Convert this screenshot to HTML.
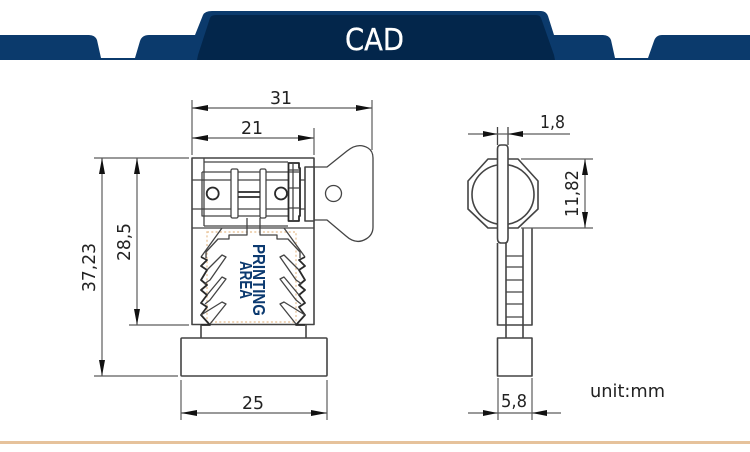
<!DOCTYPE html>
<html><head><meta charset="utf-8"><style>
html,body{margin:0;padding:0;background:#fff}
svg{display:block}
text{font-family:"DejaVu Sans","Liberation Sans",sans-serif;fill:#222;font-size:17.500px}
.l{fill:none;stroke:#444;stroke-width:1.300;stroke-linejoin:round}
.t{fill:none;stroke:#2a2a2a;stroke-width:1.800;stroke-linejoin:round}
.o{fill:none;stroke:#444;stroke-width:1.600;stroke-linejoin:round}
.d{fill:none;stroke:#5c5c5c;stroke-width:1.200}
.a{fill:#111;stroke:none}
</style></head><body>
<svg width="750" height="452" viewBox="0 0 750 452" xmlns="http://www.w3.org/2000/svg">
<rect width="750" height="452" fill="#fff"/>
<!-- header -->
<path d="M0 35H89Q95 35 97 40L101 58H135L140 41Q142 35 149 35H195L203 15Q205 11 212 11H541Q546 11 548 16L554 35H603Q609 35 611 40L615 58H648L654 41Q656 35 662 35H750V60H0Z" fill="#0b3a6c"/>
<path d="M198 55L210 18Q211 15 216 15H536Q540 15 541 18L554 55L555 60H197Z" fill="#03264b"/>
<text x="345" y="50" textLength="59" lengthAdjust="spacingAndGlyphs" style="font-size:30px;fill:#fff;stroke:#fff;stroke-width:.3">CAD</text>
<rect x="0" y="441" width="750" height="3" fill="#e6c29b"/>

<!-- front view body -->
<path class="o" d="M192 158H314V324.500H192Z"/>
<path class="l" d="M204 158V226M204 162H288M202 172H288M202 172V216H288M192 180H314M192 209H314M204 226H288M192 228H314"/>
<rect class="l" x="231" y="169" width="7" height="49" rx="1.500" fill="#fff" style="fill:#fff"/>
<rect class="l" x="260" y="169" width="6" height="49" rx="1.500" style="fill:#fff"/>
<path class="t" d="M238 192H260M238 197H260"/>
<circle class="t" cx="212.700" cy="193.500" r="6" style="fill:#fff"/>
<circle class="t" cx="281" cy="193.500" r="6" style="fill:#fff"/>
<path class="t" d="M288.500 163H299V168H300V216H299V221H288.500Z" style="fill:#fff"/>
<path class="l" d="M289 170H300M289 172H300M289 188H300M289 208H300M293 163V221"/>
<path class="o" d="M305 167H314V221H305Z" style="fill:#fff"/>
<path class="l" d="M314 167H327L347 151Q358 142 368 148Q373 151 373 158V227Q373 235 366 239Q356 245 346 236L327 220H314"/>
<circle class="l" cx="333.500" cy="193.500" r="8"/>

<!-- printing area -->
<path d="M207 232H296V322H207Z" fill="none" stroke="#eac79f" stroke-width="1.400" stroke-dasharray="2 2.300"/>
<!-- inner mechanism -->
<path class="l" d="M247 218V235H229V239H218L206 252L206 258M222 228L201 257M260 218V235H277V239H288L300 252V258M284 228L305 257"/>
<path class="t" d="M201 257L207 260L201 266L207 270L201 280L207 285L201 290L207 295L201 303L207 307L201 315L210 325H201M305 257L299 260L305 266L299 270L305 280L299 285L305 290L299 295L305 303L299 307L305 315L296 325H305"/>
<path class="l" d="M207 270L222 255L226 257L210 280L204 284M207 295L222 277L226 279L210 300L205 304M201 315L222 302L226 304L210 324M299 270L284 255L280 257L296 280L302 284M299 295L284 277L280 279L296 300L301 304M305 315L284 302L280 304L296 324"/>
<path class="o" d="M201 325V338M306 325V338"/>
<text transform="translate(253,244) rotate(90)" textLength="72" lengthAdjust="spacingAndGlyphs" style="font-family:'Liberation Sans',sans-serif;font-size:17.500px;font-weight:700;fill:#0c3a70">PRINTING</text>
<text transform="translate(240,261) rotate(90)" textLength="38" lengthAdjust="spacingAndGlyphs" style="font-family:'Liberation Sans',sans-serif;font-size:17.500px;font-weight:700;fill:#0c3a70">AREA</text>
<rect x="181" y="338" width="146" height="38" rx="1" class="o"/>

<!-- front dimensions -->
<path class="d" d="M192 100V155M372 100V150M192 108H372M192 138H314M314 128V155M94 158H189M94 376H178M129 325H189M102 158V376M137 158V325M181 380V420M327 380V420M181 413H327"/>
<path class="a" d="M192 108L208 105V111ZM372 108L356 105V111ZM192 138L208 135V141ZM314 138L298 135V141ZM102 158L99 174H105ZM102 376L99 360H105ZM137 158L134 174H140ZM137 325L134 309H140ZM181 413L197 410V416ZM327 413L311 410V416Z"/>
<text x="270" y="104" textLength="22" lengthAdjust="spacingAndGlyphs">31</text>
<text x="241" y="134" textLength="22" lengthAdjust="spacingAndGlyphs">21</text>
<text x="242" y="409" textLength="22" lengthAdjust="spacingAndGlyphs">25</text>
<text transform="translate(95,292) rotate(-90)" textLength="49" lengthAdjust="spacingAndGlyphs">37,23</text>
<text transform="translate(130,261) rotate(-90)" textLength="38" lengthAdjust="spacingAndGlyphs">28,5</text>

<!-- side view -->
<path class="o" d="M488 159H518L538 181V209L518 228H488L468 209V181Z"/>
<ellipse class="o" cx="503" cy="194.500" rx="31" ry="30"/>
<path class="o" d="M497.500 149Q497.500 145 501 145H505Q508 145 508 149V238Q508 243 505 243H501Q497.500 243 497.500 238Z" style="fill:#fff"/>
<path class="l" d="M497.500 127V145M508 127V145"/>
<path class="o" d="M497.500 243V325H532V228M523 228V338M506 243V338"/>
<path class="l" d="M506 256H523M506 267H523M506 280H523M506 292H523M506 304H523M506 317H523"/>
<path class="o" d="M497.500 338H532V376H497.500Z"/>
<path class="d" d="M498 378V420M532 378V420M468 134H570M521 159H593M521 228H593M585 159V228M468 413H561"/>
<path class="a" d="M497.500 134L483 131V137ZM508 134L523 131V137ZM585 159L582 175H588ZM585 228L582 212H588ZM497.500 413L483 410V416ZM532 413L547 410V416Z"/>
<text x="540" y="128" textLength="25" lengthAdjust="spacingAndGlyphs">1,8</text>
<text transform="translate(578,217) rotate(-90)" textLength="47" lengthAdjust="spacingAndGlyphs">11,82</text>
<text x="501" y="407" textLength="26" lengthAdjust="spacingAndGlyphs">5,8</text>
<text x="590" y="397" textLength="75" lengthAdjust="spacingAndGlyphs">unit:mm</text>
</svg>
</body></html>
